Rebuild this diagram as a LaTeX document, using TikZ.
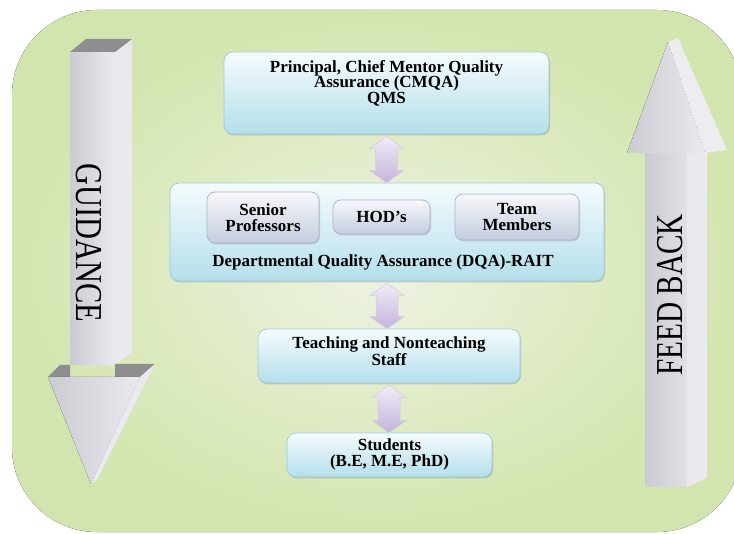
\documentclass[tikz,border=0pt]{standalone}
\usepackage{fontspec}
\setmainfont{Liberation Serif}
\usetikzlibrary{shadows,calc}

\definecolor{bgpale}{HTML}{EEF3E2}
\definecolor{bggreen}{HTML}{D3E5AE}
\definecolor{boxtop}{HTML}{F5FBFD}
\definecolor{boxbot}{HTML}{B4DFEB}
\definecolor{boxline}{HTML}{95CCDD}
\definecolor{subtop}{HTML}{F8F8FB}
\definecolor{subbot}{HTML}{C4CCDF}
\definecolor{subline}{HTML}{A9B3CC}
\definecolor{dbltop}{HTML}{F1ECF7}
\definecolor{dblbot}{HTML}{C3B4DB}
\definecolor{dblline}{HTML}{D5CBE4}
\definecolor{barfront}{HTML}{CBCBD3}
\definecolor{barlight}{HTML}{E9E9EE}
\definecolor{bartop}{HTML}{8E8E8E}

\tikzset{
  mainbox/.style={draw=boxline, line width=0.7pt, rounded corners=9pt,
    top color=boxtop, bottom color=boxbot, inner sep=0pt,
    drop shadow={shadow xshift=1pt, shadow yshift=-1.5pt, opacity=0.35}},
  subbox/.style={draw=subline, line width=0.7pt, rounded corners=8pt,
    top color=subtop, bottom color=subbot, inner sep=0pt, align=center,
    font=\fontsize{17}{15.5}\selectfont\bfseries,
    drop shadow={shadow xshift=1pt, shadow yshift=-1.5pt, opacity=0.3}},
  boxtext/.style={font=\fontsize{17}{15.5}\selectfont\bfseries, align=center, inner sep=0pt},
  dblarrow/.style={draw=dblline, line width=0.5pt, top color=dbltop, bottom color=dblbot},
  bigword/.style={font=\fontsize{38}{38}\selectfont, inner sep=0pt}
}

% two-headed link from the bottom of #1 to the top of #2
\newcommand{\linkarrow}[2]{%
  \path[dblarrow] let \p1=(#1.south), \p2=(#2.north) in
    (\x1,\y1-2pt) -- (\x1+17pt,\y1-14pt) -- (\x1+11pt,\y1-14pt) -- (\x1+11pt,\y2+12pt)
    -- (\x1+17pt,\y2+12pt) -- (\x1,\y2) -- (\x1-17pt,\y2+12pt) -- (\x1-11pt,\y2+12pt)
    -- (\x1-11pt,\y1-14pt) -- (\x1-17pt,\y1-14pt) -- cycle;}

\begin{document}
\begin{tikzpicture}[x=1pt,y=-1pt]
\useasboundingbox (0,0) rectangle (734,534);
% background panel
\fill[inner color=bgpale, outer color=bggreen, rounded corners=85pt] (12,10) rectangle (742,532);

% guidance bar (down)
\fill[left color=barfront, right color=barlight] (70,52) -- (115,52) -- (115,365) -- (70,365) -- cycle;
\fill[barlight] (115,52) -- (132,39) -- (132,352) -- (115,365) -- cycle;
\fill[bartop] (70,52) -- (115,52) -- (132,39) -- (86,39) -- cycle;
\fill[bartop] (48,377) -- (70,377) -- (70,365) -- (60,365) -- cycle;
\fill[bartop] (115,377) -- (140,377) -- (155,364) -- (115,364) -- cycle;
\fill[left color=barfront, right color=barlight] (48,377) -- (140,377) -- (91,484) -- cycle;
\fill[barlight] (140,377) -- (155,364) -- (97,480) -- (91,484) -- cycle;
\node[bigword, rotate=-90, xscale=0.8] (guidance) at (89,243) {GUIDANCE};

% feed back bar (up)
\fill[left color=barfront, right color=barfront!60!white] (645,153) -- (687,153) -- (687,487) -- (645,487) -- cycle;
\fill[barlight] (687,153) -- (707,153) -- (707,478) -- (687,487) -- cycle;
\fill[left color=barfront, right color=barlight] (627,153) -- (668,42) -- (705,153) -- cycle;
\fill[barlight!80!white] (668,42) -- (678,38) -- (727,150) -- (705,153) -- cycle;
\node[bigword, rotate=90, xscale=0.77] (feedback) at (670,295) {FEED BACK};

% boxes
\node[mainbox, minimum width=325pt, minimum height=82pt] (qms) at (386.5,93) {};
\node[boxtext] (qmstext) at (386.5,83) {Principal, Chief Mentor Quality\\Assurance (CMQA)\\QMS};

\node[mainbox, minimum width=434pt, minimum height=98pt] (dqa) at (387,232) {};
\node[subbox, minimum width=112pt, minimum height=51pt] (senior) at (263,217.5) {Senior\\Professors};
\node[subbox, minimum width=97pt, minimum height=34pt] (hod) at (381.5,217) {HOD’s};
\node[subbox, minimum width=124pt, minimum height=46pt] (team) at (517,217) {Team\\Members};
\node[boxtext] (dqatext) at (383,262) {Departmental Quality Assurance (DQA)-RAIT};

\node[mainbox, minimum width=262pt, minimum height=54pt] (staff) at (389,356) {};
\node[boxtext] (stafftext) at (389,351.5) {Teaching and Nonteaching\\Staff};

\node[mainbox, minimum width=205pt, minimum height=44pt] (students) at (389.5,455) {};
\node[boxtext] (studentstext) at (389.5,454.5) {Students\\(B.E, M.E, PhD)};

% links
\linkarrow{qms}{dqa}
\linkarrow{dqa}{staff}
\linkarrow{staff}{students}
\end{tikzpicture}
\end{document}
